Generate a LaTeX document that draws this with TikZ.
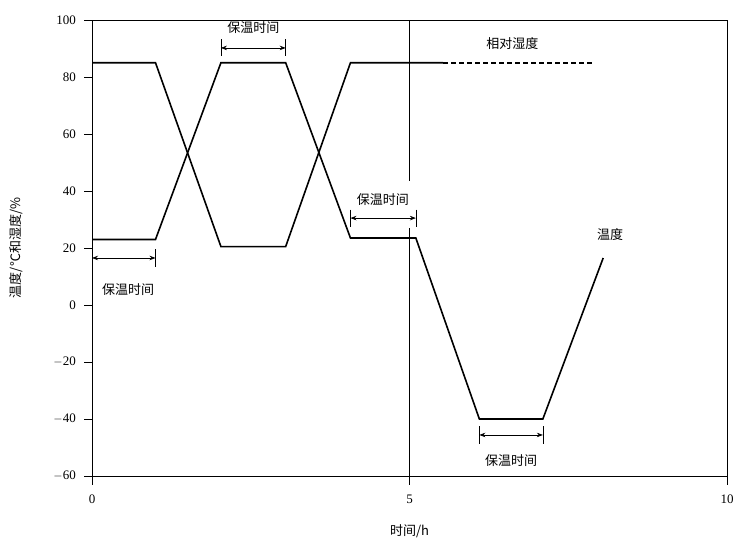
\documentclass[tikz,border=0pt]{standalone}
\usepackage{fontspec}
\newfontfamily\cjk{Noto Sans CJK SC}[BoldFont={Noto Sans CJK SC Bold}]
\setmainfont{Liberation Serif}
\usetikzlibrary{arrows.meta}
\begin{document}
\begin{tikzpicture}[x=63.5pt,y=2.85pt,
  curve/.style={line width=1.6pt},
  dim/.style={{Stealth[length=6pt]}-{Stealth[length=6pt]},line width=0.7pt},
  bar/.style={line width=0.7pt},
  lbl/.style={font=\cjk\fontsize{13}{14}\selectfont},
  num/.style={font=\fontsize{13}{14}\selectfont}]
\useasboundingbox (-1.449,-84.91) rectangle (10.189,107.02);
% axes
\draw[line width=0.8pt] (0,100) -- (0,-60) -- (10,-60) -- (10,100) -- (0,100);
\foreach \v in {100,80,60,40,20,0,-20,-40,-60}{
  \draw[line width=0.8pt] (0,\v) -- (-0.13,\v);
  \node[num,anchor=east] (yl\v) at (-0.2,\v) {\ifnum\v<0 $-$\the\numexpr-\v\relax\else\v\fi};}
\foreach \v in {0,5,10}{
  \draw[line width=0.8pt] (\v,-60) -- (\v,-63);
  \node[num,anchor=north] (xl\v) at (\v,-65.5) {\v};}
\node[lbl] (xt) at (5,-79.5) {时间/h};
\node[lbl,rotate=90] (yt) at (-1.2,20) {温度/℃和湿度/\%};
% vertical line at 5
\draw[line width=0.7pt] (5,100) -- (5,43.5);
\draw[line width=0.7pt] (5,27) -- (5,-60);
% humidity
\draw[curve] (0,85) -- (1,85) -- (2.03,20.5) -- (3.05,20.5) -- (4.07,85) -- (5.53,85);
\draw[curve,dash pattern=on 5pt off 3pt] (5.53,85) -- (7.92,85);
% temperature
\draw[curve] (0,23) -- (1,23) -- (2.03,85) -- (3.05,85) -- (4.07,23.5) -- (5.1,23.5) -- (6.1,-40) -- (7.1,-40) -- (8.05,16.5);
% dims
\coordinate (a1) at (0,16.5); \coordinate (a2) at (1,16.5);
\draw[bar] (1,19.5) -- (1,13.5);
\draw[dim] (a1) -- (a2);
\node[lbl] (l1) at (0.57,5.5) {保温时间};
\coordinate (b1) at (2.03,90.2); \coordinate (b2) at (3.05,90.2);
\draw[bar] (2.03,93.2) -- (2.03,87.2); \draw[bar] (3.05,93.2) -- (3.05,87.2);
\draw[dim] (b1) -- (b2);
\node[lbl] (l2) at (2.54,97.3) {保温时间};
\coordinate (c1) at (4.07,30.5); \coordinate (c2) at (5.1,30.5);
\draw[bar] (4.07,33.5) -- (4.07,27.5); \draw[bar] (5.1,33.5) -- (5.1,27.5);
\draw[dim] (c1) -- (c2);
\node[lbl] (l3) at (4.58,37) {保温时间};
\coordinate (d1) at (6.1,-45.6); \coordinate (d2) at (7.1,-45.6);
\draw[bar] (6.1,-42.6) -- (6.1,-48.6); \draw[bar] (7.1,-42.6) -- (7.1,-48.6);
\draw[dim] (d1) -- (d2);
\node[lbl] (l4) at (6.6,-54.5) {保温时间};
\node[lbl] (rh) at (6.62,91.8) {相对湿度};
\node[lbl] (tp) at (8.16,24.6) {温度};
\end{tikzpicture}
\end{document}
